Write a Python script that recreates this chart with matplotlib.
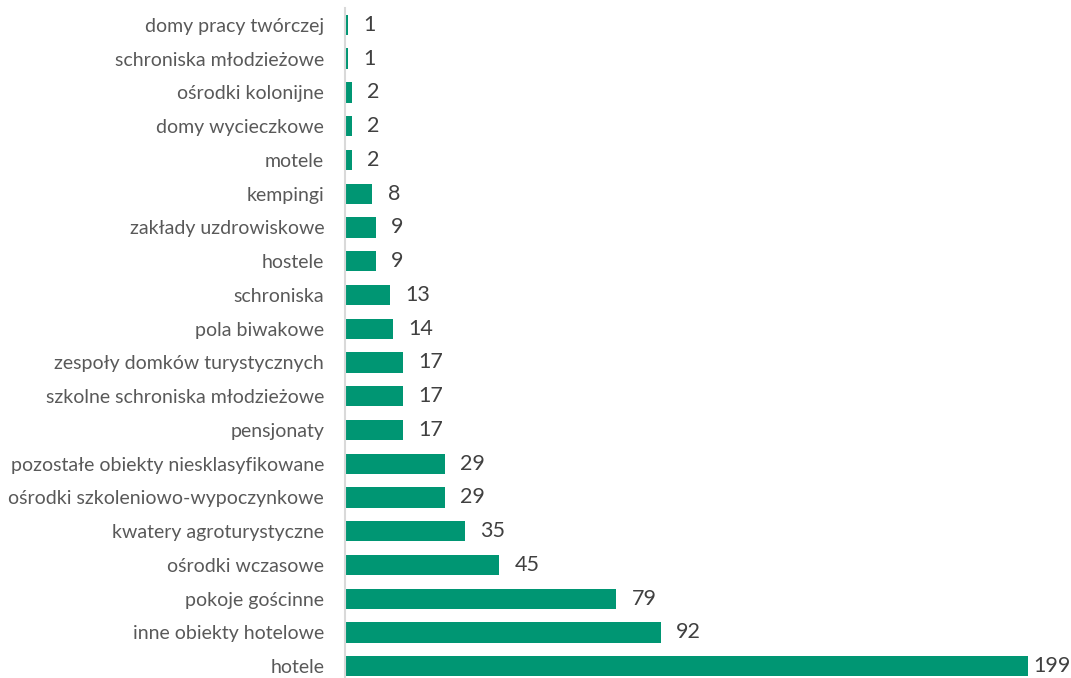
import matplotlib.pyplot as plt

categories = [
    'hotele', 'inne obiekty hotelowe', 'pokoje gościnne', 'ośrodki wczasowe',
    'kwatery agroturystyczne', 'ośrodki szkoleniowo-wypoczynkowe',
    'pozostałe obiekty niesklasyfikowane', 'pensjonaty',
    'szkolne schroniska młodzieżowe', 'zespoły domków turystycznych',
    'pola biwakowe', 'schroniska', 'hostele', 'zakłady uzdrowiskowe',
    'kempingi', 'motele', 'domy wycieczkowe', 'ośrodki kolonijne',
    'schroniska młodzieżowe', 'domy pracy twórczej'
]
values = [199, 92, 79, 45, 35, 29, 29, 17, 17, 17, 14, 13, 9, 9, 8, 2, 2, 2, 1, 1]

plt.rcParams['font.family'] = ['Lato', 'DejaVu Sans']

fig = plt.figure(figsize=(10.71, 6.78), dpi=100)
W, H = 1071, 678
# axes spans pixel x 345..1060, y 8..683 (bottom slightly outside)
ax = fig.add_axes([345 / W, (H - 683) / H, 715 / W, 675 / H])

pos = range(len(categories))
ax.barh(pos, values, height=0.6, color='#009673')
vmax = max(values)
for p, v in zip(pos, values):
    # label of the longest bar sits tighter so it fits the page
    off = 4 if v == vmax else 11
    ax.annotate(str(v), (v, p), xytext=(off, 0), textcoords='offset points',
                va='center', ha='left', fontsize=15.5, color='#404040',
                annotation_clip=False)

ax.set_ylim(-0.5, len(categories) - 0.5)
ax.set_xlim(0, 715 / (683 / 199))
ax.set_yticks(list(pos))
ax.set_yticklabels(categories, fontsize=14, color='#595959')
ax.tick_params(axis='y', length=0, pad=15)
ax.set_xticks([])
for s in ['top', 'right', 'bottom']:
    ax.spines[s].set_visible(False)
ax.spines['left'].set_color('#d9d9d9')
ax.spines['left'].set_linewidth(1.5)

fig.savefig('out.png', dpi=100)
